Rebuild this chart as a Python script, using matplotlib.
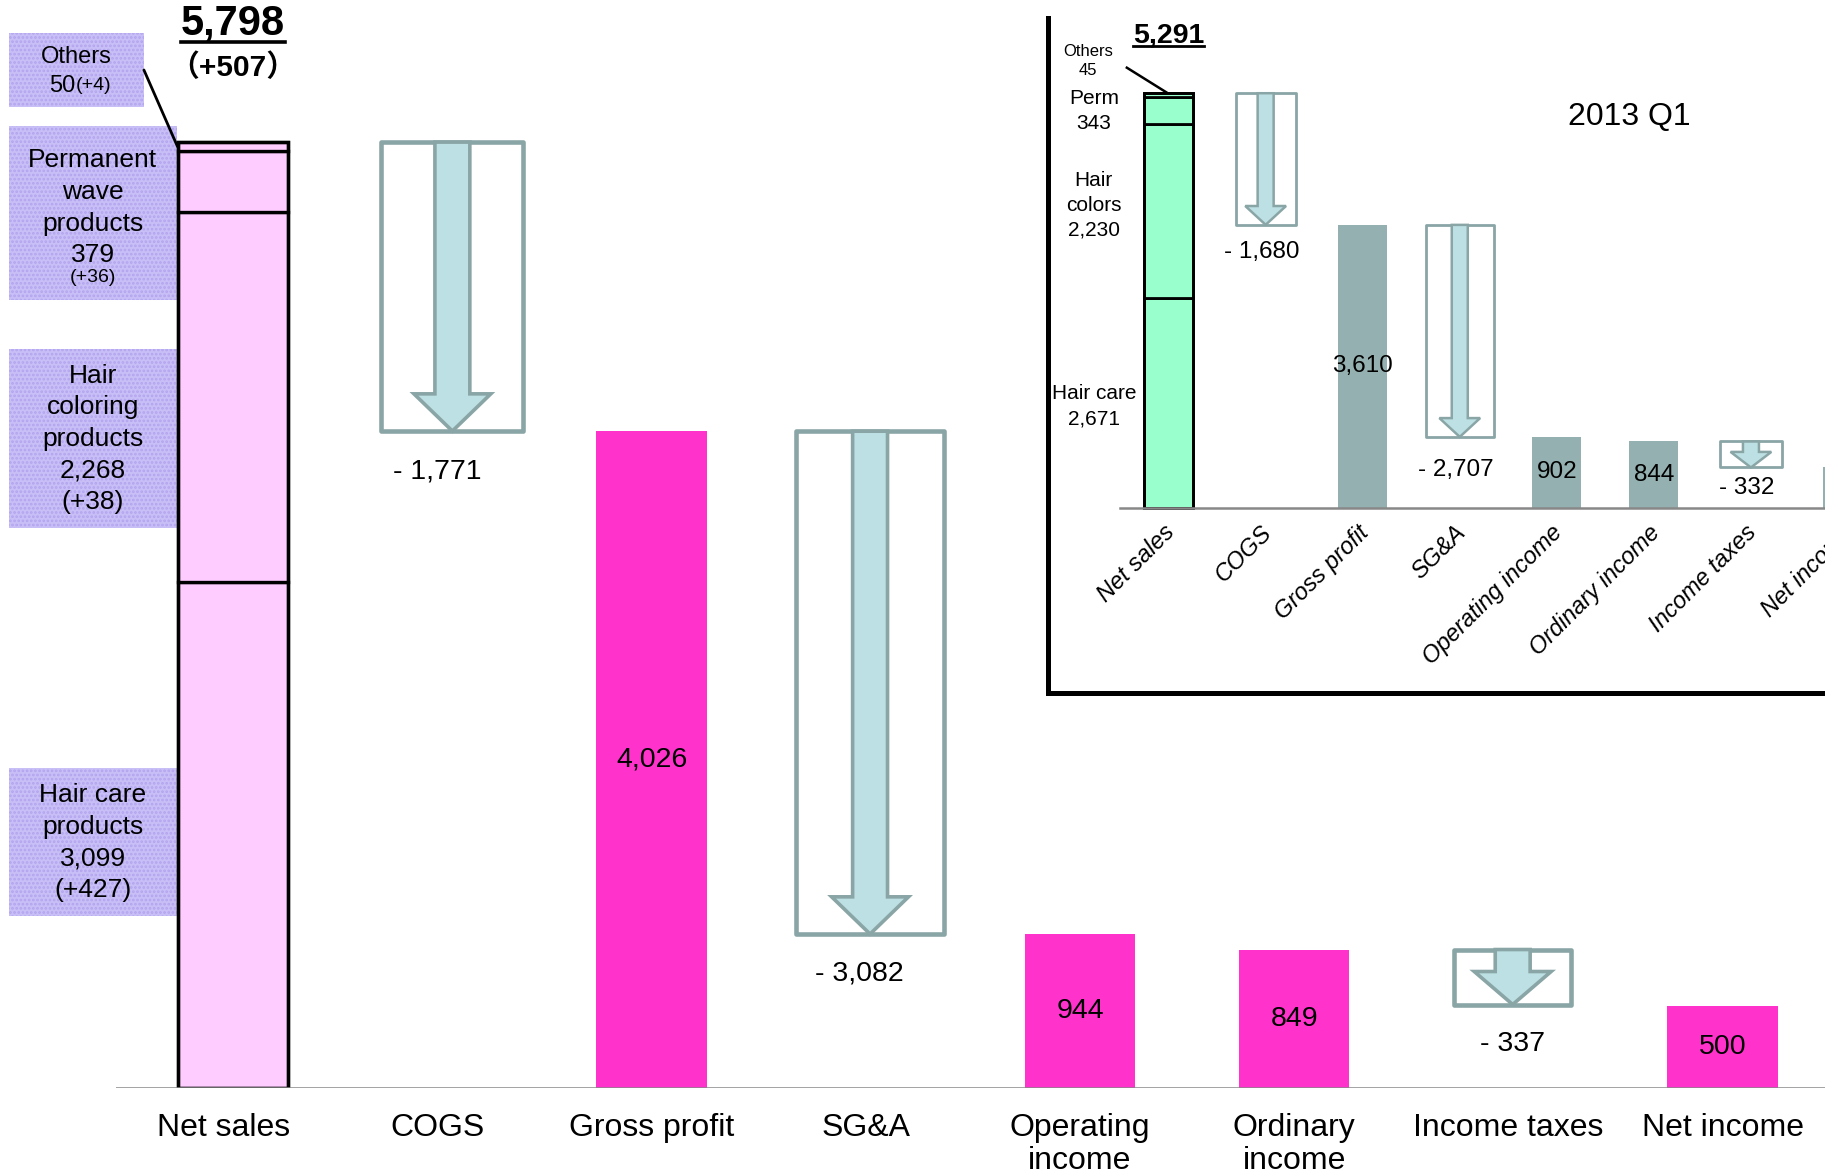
import matplotlib
matplotlib.use('Agg')
import matplotlib.pyplot as plt
from matplotlib.patches import Rectangle, FancyArrow
from matplotlib.lines import Line2D

plt.rcParams['font.family'] = ['Liberation Sans', 'Noto Sans CJK JP', 'DejaVu Sans']
plt.rcParams['hatch.linewidth'] = 1.3

# full year (main chart)
categories = ['Net sales', 'COGS', 'Gross profit', 'SG&A', 'Operating\nincome',
              'Ordinary\nincome', 'Income taxes', 'Net income']
values = [5798, -1771, 4026, -3082, 944, 849, -337, 500]
sales_change = 507
segment_values = [3099, 2268, 379, 50]      # hair care, coloring, perm, others
segment_changes = [427, 38, 36, 4]

# 2013 Q1 (inset)
q1_categories = ['Net sales', 'COGS', 'Gross profit', 'SG&A', 'Operating income',
                 'Ordinary income', 'Income taxes', 'Net income']
q1_values = [5291, -1680, 3610, -2707, 902, 844, -332, 512]
q1_segment_values = [2671, 2230, 343, 45]

PINK = '#FFCCFF'
MAGENTA = '#FF33CC'
MINT = '#99FFCC'
GRAYBAR = '#95B0B0'
EDGE = '#8AA5A6'
ARROW = '#BCE0E3'
LAV = '#C9BFF7'
LAV_DOT = '#B3A4EE'
AXIS = '#888888'


def draw_drop(ax, x, top, bottom, box_w, shaft_w, head_w, head_len, box_lw, arrow_lw):
    ax.add_patch(Rectangle((x - box_w / 2, bottom), box_w, top - bottom,
                           facecolor='white', edgecolor=EDGE, lw=box_lw,
                           joinstyle='round', zorder=2))
    ax.add_patch(FancyArrow(x, top, 0, bottom - top, width=shaft_w,
                            head_width=head_w, head_length=head_len,
                            length_includes_head=True, facecolor=ARROW,
                            edgecolor=EDGE, lw=arrow_lw, zorder=3))


def waterfall(ax, vals, bar_color, bar_w, box_ws, box_dx, shaft_w, head_w,
              head_len, box_lw, arrow_lw):
    """returns (top, bottom) of each drop so labels can be placed"""
    level = 0
    drops = {}
    for i, v in enumerate(vals):
        if i == 0:
            level = v
            continue
        if v < 0:
            top, bottom = level, level + v
            hl = min(head_len, 0.6 * abs(v))
            draw_drop(ax, i + box_dx[i], top, bottom, box_ws[i], shaft_w, head_w,
                      hl, box_lw, arrow_lw)
            drops[i] = (top, bottom)
            level = bottom
        else:
            ax.bar(i, v, width=bar_w, color=bar_color, zorder=2)
            level = v
    return drops


def stacked_sales(ax, x, segs, total, color, width, lw):
    bottom = 0
    for s in segs:
        ax.bar(x, s, bottom=bottom, width=width, facecolor=color,
               edgecolor='black', lw=lw, zorder=3)
        bottom += s
    ax.bar(x, total, width=width, facecolor='none', edgecolor='black', lw=lw, zorder=4)


fig = plt.figure(figsize=(18.25, 11.76), dpi=100)

# ---------------- main chart ----------------
ax = fig.add_axes([0.0636, 0.0748, 0.9364, 0.9252])
ax.set_xlim(-0.5, 7.478)
ax.set_ylim(0, 6669)
for s in ax.spines.values():
    s.set_visible(False)
ax.set_yticks([])
ax.set_xticks(range(len(categories)))
ax.set_xticklabels(categories, fontsize=23, linespacing=1.12)
ax.tick_params(axis='x', length=0, pad=18)
ax.axhline(0, color=AXIS, lw=1.8, zorder=5)

ns_x = 0.045
stacked_sales(ax, ns_x, segment_values, values[0], PINK, 0.516, 2.4)
drops = waterfall(ax, values, MAGENTA, 0.516,
                  {1: 0.663, 3: 0.69, 6: 0.549}, {1: 0.07, 3: 0.02, 6: 0.02},
                  0.163, 0.359, 228, 3.3, 2.6)

label_dx = {1: 0.0, 3: -0.03, 6: 0.02}
for i, v in enumerate(values):
    if i == 0:
        continue
    if v < 0:
        ax.text(i + label_dx[i], drops[i][1] - 245, f'- {abs(v):,}', fontsize=20.5,
                ha='center', va='center', zorder=6)
    else:
        ax.text(i, v / 2, f'{v:,}', fontsize=20.5, ha='center', va='center', zorder=6)

total_txt = ax.text(ns_x, 6526, f'{values[0]:,}', fontsize=30, fontweight='bold',
                    ha='center', va='center')
ax.text(ns_x, 6255, f'（+{sales_change}）', fontsize=21.5, fontweight='bold',
        ha='center', va='center')

# segment captions on the left
def label_box(x0, x1, y0, y1):
    ax.add_patch(Rectangle((x0, y0), x1 - x0, y1 - y0, facecolor=LAV,
                           edgecolor=LAV_DOT, hatch='....', lw=0,
                           clip_on=False, zorder=1))

label_box(-1.0, -0.37, 6013, 6469)
label_box(-1.0, -0.217, 4829, 5899)
label_box(-1.0, -0.217, 3431, 4529)
label_box(-1.0, -0.217, 1056, 1961)

ax.text(-0.685, 6320, 'Others', fontsize=17, ha='center', va='center')
ax.text(-0.69, 6142, f'{segment_values[3]}', fontsize=17, ha='right', va='center')
ax.text(-0.69, 6142, f'(+{segment_changes[3]})', fontsize=14, ha='left', va='center')
ax.annotate('', xy=(ns_x - 0.258, 5770), xytext=(-0.37, 6240),
            arrowprops=dict(arrowstyle='-', color='black', lw=2,
                            shrinkA=0, shrinkB=0),
            annotation_clip=False)

ax.text(-0.609, 5395, f'Permanent\nwave\nproducts\n{segment_values[2]}',
        fontsize=19, ha='center', va='center', linespacing=1.4)
ax.text(-0.609, 4971, f'(+{segment_changes[2]})', fontsize=14, ha='center', va='center')
ax.text(-0.609, 3980, f'Hair\ncoloring\nproducts\n{segment_values[1]:,}\n(+{segment_changes[1]})',
        fontsize=19, ha='center', va='center', linespacing=1.4)
ax.text(-0.609, 1505, f'Hair care\nproducts\n{segment_values[0]:,}\n(+{segment_changes[0]})',
        fontsize=19, ha='center', va='center', linespacing=1.4)

# ---------------- 2013 Q1 inset ----------------
ins = fig.add_axes([0.574, 0.411, 0.426, 0.574])
ins.set_facecolor('white')
ins.set_xlim(-1.247, 6.763)
ins.set_ylim(-2363, 6256)
ins.set_xticks([])
ins.set_yticks([])
ins.spines['top'].set_visible(False)
ins.spines['right'].set_visible(False)
ins.spines['left'].set_linewidth(3.6)
ins.spines['bottom'].set_linewidth(3.6)
ins.plot([-0.5, 8], [0, 0], color=AXIS, lw=1.8, zorder=5)

stacked_sales(ins, 0, q1_segment_values, q1_values[0], MINT, 0.505, 2.0)
q1_drops = waterfall(ins, q1_values, GRAYBAR, 0.505,
                     {1: 0.62, 3: 0.70, 6: 0.64}, {1: 0.0, 3: 0.0, 6: 0.0},
                     0.165, 0.42, 240, 2.0, 1.8)

q1_label_gap = {1: 342, 3: 428, 6: 259}
for i, v in enumerate(q1_values):
    if i == 0 or i == 7:
        continue
    if v < 0:
        ins.text(i - 0.04, q1_drops[i][1] - q1_label_gap[i], f'- {abs(v):,}',
                 fontsize=17.5, ha='center', va='center', zorder=6)
    else:
        ins.text(i, v / 2, f'{v:,}', fontsize=17.5, ha='center', va='center', zorder=6)

for i, name in enumerate(q1_categories):
    ins.text(i - 0.06, -170, name, fontsize=17, style='italic', rotation=45,
             ha='right', va='top', rotation_mode='anchor', clip_on=False)

q1_total_txt = ins.text(0, 6033, f'{q1_values[0]:,}', fontsize=20.5,
                        fontweight='bold', ha='center', va='center')
ins.text(-0.83, 5706, f'Others\n{q1_segment_values[3]}', fontsize=12,
         ha='center', va='center', linespacing=1.35)
ins.plot([-0.43, -0.02], [5617, 5300], color='black', lw=1.8)
ins.text(-0.77, 5067, f'Perm\n{q1_segment_values[2]}', fontsize=15,
         ha='center', va='center', linespacing=1.4)
ins.text(-0.77, 3863, f'Hair\ncolors\n{q1_segment_values[1]:,}', fontsize=15,
         ha='center', va='center', linespacing=1.4)
ins.text(-0.77, 1293, f'Hair care\n{q1_segment_values[0]:,}', fontsize=15,
         ha='center', va='center', linespacing=1.4)
ins.text(4.75, 4993, '2013 Q1', fontsize=23, ha='center', va='center')

# underline the two totals
fig.canvas.draw()
r = fig.canvas.get_renderer()
for t, lw in [(total_txt, 2.6), (q1_total_txt, 2.0)]:
    bb = t.get_window_extent(r).transformed(fig.transFigure.inverted())
    y = bb.y0 + 0.0015
    fig.add_artist(Line2D([bb.x0, bb.x1], [y, y], color='black', lw=lw,
                          transform=fig.transFigure))

fig.savefig('out.png', dpi=100, facecolor='white')
